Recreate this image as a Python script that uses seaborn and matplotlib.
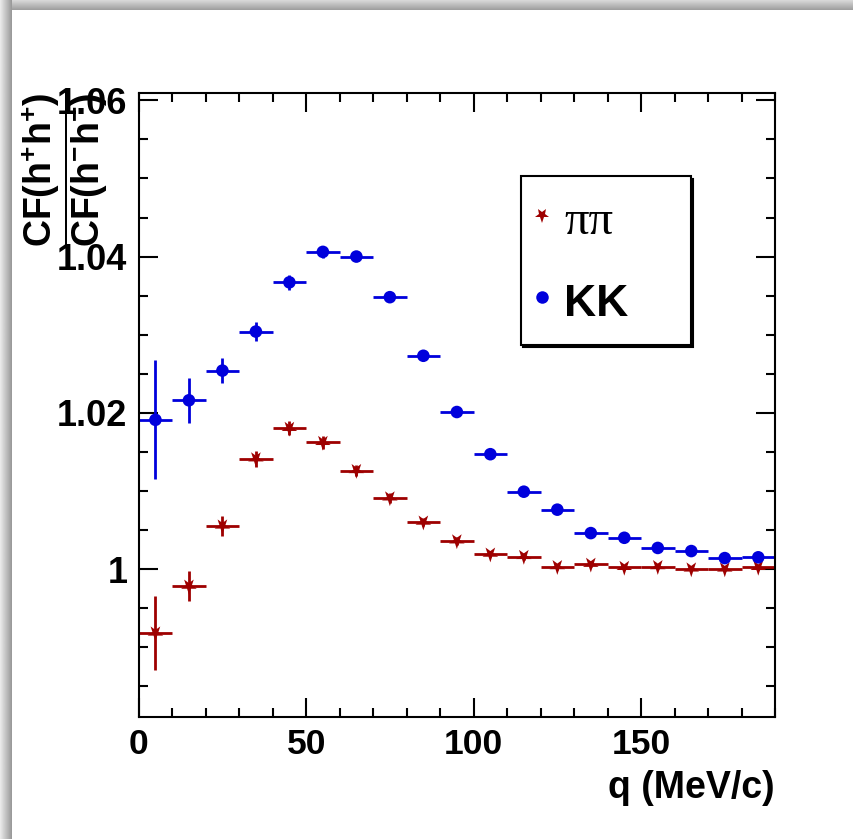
import numpy as np
import pandas as pd
import matplotlib
matplotlib.use("Agg")
import matplotlib.pyplot as plt
import seaborn as sns
from matplotlib.markers import MarkerStyle
from matplotlib.transforms import Affine2D
from matplotlib.lines import Line2D
from matplotlib.ticker import MultipleLocator, FuncFormatter

# ---------------- data ----------------
q_centers = [5, 15, 25, 35, 45, 55, 65, 75, 85, 95, 105, 115, 125, 135, 145, 155, 165, 175, 185]
bin_half_width = 5

kk_cf = [1.0191, 1.0216, 1.0254, 1.0304, 1.0367, 1.0406, 1.0400, 1.0348, 1.0273, 1.0201,
         1.0147, 1.0099, 1.0076, 1.0046, 1.0040, 1.0027, 1.0023, 1.0014, 1.0015]
kk_err = [0.0076, 0.0029, 0.0016, 0.0012, 0.0010, 0.0008, 0.0006, 0.0005, 0.0004, 0.0004,
          0.0003, 0.0003, 0.0003, 0.0003, 0.0003, 0.0003, 0.0003, 0.0003, 0.0003]

pipi_cf = [0.9918, 0.9978, 1.0055, 1.0141, 1.0180, 1.0162, 1.0126, 1.0091, 1.0060, 1.0036,
           1.0019, 1.0016, 1.0003, 1.0006, 1.0002, 1.0003, 1.0000, 1.0000, 1.0002]
pipi_err = [0.0047, 0.0019, 0.0013, 0.0010, 0.0009, 0.0008, 0.0007, 0.0006, 0.0005, 0.0005,
            0.0004, 0.0004, 0.0004, 0.0004, 0.0003, 0.0003, 0.0003, 0.0003, 0.0003]

series_labels = ["ππ", "KK"]
x_label = "q (MeV/c)"
y_label = r"$\dfrac{\mathbf{CF(h^{+}h^{+})}}{\mathbf{CF(h^{-}h^{-})}}$"

red = "#9e0000"
blue = "#0000dc"

df = pd.DataFrame({
    "q": q_centers * 2,
    "cf": pipi_cf + kk_cf,
    "err": pipi_err + kk_err,
    "pair": [series_labels[0]] * len(q_centers) + [series_labels[1]] * len(q_centers),
})

# ---------------- style ----------------
sns.set_theme(style="ticks")
plt.rcParams["font.family"] = ["Liberation Sans", "DejaVu Sans"]
plt.rcParams["font.weight"] = "bold"
plt.rcParams["text.color"] = "black"
plt.rcParams["axes.labelcolor"] = "black"
plt.rcParams["xtick.color"] = "black"
plt.rcParams["ytick.color"] = "black"
plt.rcParams["xtick.labelcolor"] = "black"
plt.rcParams["ytick.labelcolor"] = "black"
plt.rcParams["mathtext.fontset"] = "custom"
plt.rcParams["mathtext.bf"] = "Liberation Sans:bold"
plt.rcParams["mathtext.rm"] = "Liberation Sans:bold"
plt.rcParams["mathtext.it"] = "Liberation Sans:bold"
plt.rcParams["axes.linewidth"] = 1.5
plt.rcParams["axes.edgecolor"] = "black"

fig = plt.figure(figsize=(8.54, 8.39), dpi=100)
fig.patch.set_facecolor("white")

# ROOT-like canvas bevel (top and left)
top_band = fig.add_axes([0, 1 - 10 / 839, 1, 10 / 839])
top_band.imshow(np.linspace(0.85, 0.62, 20).reshape(-1, 1), cmap="gray", vmin=0, vmax=1,
                aspect="auto", extent=(0, 1, 0, 1))
top_band.set_axis_off()
left_band = fig.add_axes([0, 0, 12 / 854, 1])
left_band.imshow(np.linspace(0.92, 0.60, 20).reshape(1, -1), cmap="gray", vmin=0, vmax=1,
                 aspect="auto", extent=(0, 1, 0, 1))
left_band.set_axis_off()

ax = fig.add_axes([0.1624, 0.1458, 0.9075 - 0.1624, 0.8888 - 0.1458])
ax.set_facecolor("white")

star = MarkerStyle("*", transform=Affine2D().rotate_deg(180))
palette = {series_labels[0]: red, series_labels[1]: blue}

for lab in series_labels:
    sub = df[df["pair"] == lab]
    ax.errorbar(sub["q"], sub["cf"], xerr=bin_half_width, yerr=sub["err"], fmt="none",
                ecolor=palette[lab], elinewidth=2.0, capsize=0, zorder=2)

sns.scatterplot(data=df, x="q", y="cf", hue="pair", style="pair", palette=palette,
                markers={series_labels[0]: star, series_labels[1]: "o"},
                size="pair", sizes={series_labels[0]: 140, series_labels[1]: 82},
                linewidth=0, legend=False, ax=ax, zorder=3)

ax.set_xlim(0, 190)
ax.set_ylim(0.9811, 1.0609)
ax.xaxis.set_major_locator(MultipleLocator(50))
ax.xaxis.set_minor_locator(MultipleLocator(10))
ax.yaxis.set_major_locator(MultipleLocator(0.02))
ax.yaxis.set_minor_locator(MultipleLocator(0.005))
ax.yaxis.set_major_formatter(FuncFormatter(lambda v, p: f"{v:g}"))
ax.xaxis.set_major_formatter(FuncFormatter(lambda v, p: f"{v:g}"))

ax.tick_params(which="both", direction="in", top=True, right=True, width=1.5, color="black",
               labelcolor="black")
ax.tick_params(which="major", length=14)
ax.tick_params(which="minor", length=6.8)
ax.tick_params(axis="x", which="major", labelsize=25.5, pad=8)
ax.tick_params(axis="y", which="major", labelsize=26, pad=8)
for t in ax.get_xticklabels() + ax.get_yticklabels():
    t.set_fontweight("bold")
for s in ax.spines.values():
    s.set_visible(True)
    s.set_linewidth(1.5)
    s.set_color("black")

ax.set_xlabel(x_label, fontsize=27, fontweight="bold", loc="right", color="black")
ax.xaxis.set_label_coords(1.0, -0.086)
ax.set_ylabel("")

fig.text(0.0762, 0.7986, y_label, rotation=90, ha="center", va="center", fontsize=27,
         color="black")

# legend
handles = [
    Line2D([], [], ls="none", marker=star, color=red, markersize=11, markeredgewidth=0),
    Line2D([], [], ls="none", marker="o", color=blue, markersize=9, markeredgewidth=0),
]
x0, x1 = 520.7 / 854, 690.7 / 854
y0, y1 = 1 - 342.7 / 839, 1 - 176 / 839
leg = ax.legend(handles, series_labels, loc="upper left",
                bbox_to_anchor=(x0, y0, x1 - x0, y1 - y0), bbox_transform=fig.transFigure,
                mode="expand", borderaxespad=0, borderpad=0.43, handlelength=0.1,
                handleheight=1.3, handletextpad=0.45, labelspacing=0.74, frameon=True,
                fancybox=False, shadow={"color": "black", "alpha": 1.0},
                prop={"family": "Liberation Sans", "weight": "bold", "size": 32})
frame = leg.get_frame()
frame.set_edgecolor("black")
frame.set_linewidth(1.5)
frame.set_facecolor("white")
frame.set_alpha(1.0)
for t in leg.get_texts():
    t.set_color("black")
t0 = leg.get_texts()[0]
t0.set_fontfamily("Liberation Serif")
t0.set_fontweight("normal")
t0.set_fontsize(35)

fig.savefig("out.png", dpi=100, facecolor="white")
